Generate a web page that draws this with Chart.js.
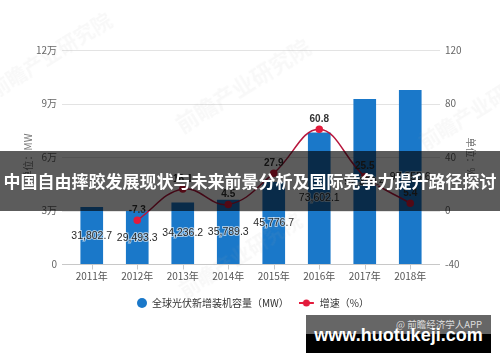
<!DOCTYPE html>
<html>
<head>
<meta charset="utf-8">
<script src="https://cdn.jsdelivr.net/npm/chart.js@4/dist/chart.umd.min.js"></script>
<style>
  body { margin: 0; background: #fff; }
  #wrap { position: relative; width: 500px; height: 362px; overflow: hidden; font-family: "Noto Sans CJK SC", sans-serif; }
  #chart { position: absolute; left: 0; top: 0; }
  .wm { position: absolute; color: rgba(170,170,170,0.08); font-weight: bold; white-space: nowrap;
    transform: rotate(-32deg); transform-origin: center; pointer-events: none; }
  .band { position: absolute; left: 0; top: 151px; width: 500px; height: 60px; background: rgba(0,0,0,0.64);
    color: #fff; font-weight: bold; font-size: 17px; line-height: 60px; text-align: center; white-space: nowrap; }
  .site { position: absolute; left: 306px; top: 315px; width: 185px; height: 38px; background: #000; }
  .site .top { position: absolute; left: 0; top: 0; width: 185px; height: 19px; background: #666; }
  .site .app { position: absolute; right: 9px; top: 0; line-height: 19px; font-size: 9.5px; color: #ddd; }
  .site .url { position: absolute; left: 0; top: 10px; width: 185px; text-align: center; line-height: 24px;
    font: bold 18px "Liberation Sans", Arial, sans-serif; color: #fff; }
</style>
</head>
<body>
<div id="wrap">
  <canvas id="chart" width="500" height="362"></canvas>
  <div class="wm" style="left:165px;top:68px;font-size:22px;">前瞻产业研究院</div>
  <div class="wm" style="left:-20px;top:40px;font-size:20px;">前瞻产业研究院</div>
  <div class="wm" style="left:410px;top:92px;font-size:20px;">前瞻产业研究院</div>
  <div class="wm" style="left:170px;top:240px;font-size:20px;">前瞻产业研究院</div>
  <div class="band">中国自由摔跤发展现状与未来前景分析及国际竞争力提升路径探讨</div>
  <div class="site">
    <div class="top"><span class="app">@ 前瞻经济学人APP</span></div>
    <div class="url">www.huotukeji.com</div>
  </div>
</div>
<script>
const years = ["2011年", "2012年", "2013年", "2014年", "2015年", "2016年", "2017年", "2018年"];
const capacity = [31802.7, 29493.3, 34236.2, 35789.3, 45776.7, 73602.1, 92370.4, 97355.6];
const growth = [null, -7.3, 16.1, 4.5, 27.9, 60.8, 25.5, 5.4];
const leftTicks = [0, 30000, 60000, 90000, 120000];
const rightTicks = [-40, 0, 40, 80, 120];

const BLUE = "#1a78c9";
const LINE = "#b8173d";
const DOT = "#e31b3c";
const FONT = "'Noto Sans CJK SC', sans-serif";

function circleIcon() {
  const c = document.createElement("canvas");
  c.width = 16; c.height = 10;
  const g = c.getContext("2d");
  g.fillStyle = BLUE;
  g.beginPath(); g.arc(11, 5, 5, 0, Math.PI * 2); g.fill();
  return c;
}
function lineIcon() {
  const c = document.createElement("canvas");
  c.width = 16; c.height = 8;
  const g = c.getContext("2d");
  g.strokeStyle = DOT; g.lineWidth = 2;
  g.beginPath(); g.moveTo(0, 4); g.lineTo(15, 4); g.stroke();
  g.fillStyle = DOT;
  g.beginPath(); g.arc(7.5, 4, 3.5, 0, Math.PI * 2); g.fill();
  return c;
}

// gridlines reach a bit past the plot, like the original
const gridPlugin = {
  id: "grid",
  beforeDatasetsDraw(chart) {
    const { ctx, chartArea, scales } = chart;
    const y = scales.y, x = scales.x;
    ctx.save();
    ctx.lineWidth = 1;
    ctx.strokeStyle = "#e3e3e3";
    leftTicks.forEach((v) => {
      if (v === 0) return;
      const py = Math.round(y.getPixelForValue(v)) + 0.5;
      ctx.beginPath(); ctx.moveTo(chartArea.left - 7, py); ctx.lineTo(chartArea.right + 7, py); ctx.stroke();
    });
    ctx.strokeStyle = "#c8c8c8";
    const by = Math.round(y.getPixelForValue(0)) + 0.5;
    ctx.beginPath(); ctx.moveTo(chartArea.left - 7, by); ctx.lineTo(chartArea.right + 7, by); ctx.stroke();
    years.forEach((_, i) => {
      const px = Math.round(x.getPixelForValue(i)) + 0.5;
      ctx.beginPath(); ctx.moveTo(px, by); ctx.lineTo(px, by + 5); ctx.stroke();
    });
    ctx.restore();
  },
};

const labelPlugin = {
  id: "labels",
  afterDatasetsDraw(chart) {
    const { ctx } = chart;
    ctx.save();
    ctx.textAlign = "center";
    ctx.textBaseline = "middle";
    const bars = chart.getDatasetMeta(0).data;
    ctx.font = "10.5px 'Liberation Sans', Arial, sans-serif";
    bars.forEach((b, i) => {
      const t = capacity[i].toLocaleString("en-US", { minimumFractionDigits: 1, maximumFractionDigits: 1 });
      const cy = (b.y + b.base) / 2;
      ctx.lineWidth = 2; ctx.strokeStyle = "rgba(255,255,255,0.6)";
      ctx.strokeText(t, b.x, cy);
      ctx.fillStyle = "#2a2a2a";
      ctx.fillText(t, b.x, cy);
    });
    const pts = chart.getDatasetMeta(1).data;
    ctx.font = "bold 10px 'Liberation Sans', Arial, sans-serif";
    pts.forEach((p, i) => {
      if (growth[i] === null) return;
      ctx.fillStyle = "#333";
      ctx.fillText(String(growth[i]), p.x, p.y - 10);
    });
    ctx.restore();
  },
};

new Chart(document.getElementById("chart"), {
  data: {
    labels: years,
    datasets: [
      {
        type: "bar",
        label: "全球光伏新增装机容量（MW）",
        data: capacity,
        yAxisID: "y",
        backgroundColor: BLUE,
        barThickness: 22,
        order: 2,
      },
      {
        type: "line",
        label: "增速（%）",
        data: growth,
        yAxisID: "y1",
        borderColor: LINE,
        borderWidth: 1.5,
        tension: 0.4,
        pointRadius: 3,
        pointBackgroundColor: DOT,
        pointBorderColor: DOT,
        order: 1,
      },
    ],
  },
  options: {
    responsive: false,
    animation: false,
    layout: { padding: { top: 50, bottom: 44, left: 0, right: 0 } },
    plugins: {
      tooltip: { enabled: false },
      legend: {
        position: "bottom",
        labels: {
          usePointStyle: true,
          pointStyleWidth: 16,
          boxHeight: 10,
          padding: 10,
          color: "#333",
          font: { family: FONT, size: 10 },
          generateLabels: () => [
            { text: "全球光伏新增装机容量（MW）", pointStyle: circleIcon(), fillStyle: BLUE, strokeStyle: BLUE, lineWidth: 0, datasetIndex: 0, fontColor: "#333" },
            { text: "增速（%）", pointStyle: lineIcon(), fillStyle: DOT, strokeStyle: DOT, lineWidth: 0, datasetIndex: 1, fontColor: "#333" },
          ],
        },
      },
    },
    scales: {
      x: {
        grid: { display: false, drawTicks: false },
        border: { display: false },
        ticks: { color: "#555", font: { family: FONT, size: 10 }, padding: 6 },
      },
      y: {
        position: "left",
        min: 0, max: 120000,
        afterFit: (s) => { s.width = 69; },
        afterBuildTicks: (s) => { s.ticks = leftTicks.map((v) => ({ value: v })); },
        grid: { display: false, drawTicks: false },
        border: { display: false },
        ticks: {
          color: "#666", font: { family: FONT, size: 10 }, padding: 12,
          callback: (v) => (v === 0 ? "0" : v / 10000 + "万"),
        },
        title: { display: true, text: "单位：MW", color: "#777", font: { family: FONT, size: 10 }, padding: { top: 22, bottom: 0 } },
      },
      y1: {
        position: "right",
        min: -40, max: 120,
        afterFit: (s) => { s.width = 67; },
        afterBuildTicks: (s) => { s.ticks = rightTicks.map((v) => ({ value: v })); },
        grid: { display: false, drawTicks: false },
        border: { display: false },
        ticks: { color: "#666", font: { family: FONT, size: 10 }, padding: 12 },
        title: { display: true, text: "单位：%", color: "#777", font: { family: FONT, size: 10 }, padding: { top: 23, bottom: 0 } },
      },
    },
  },
  plugins: [gridPlugin, labelPlugin],
});
</script>
</body>
</html>
